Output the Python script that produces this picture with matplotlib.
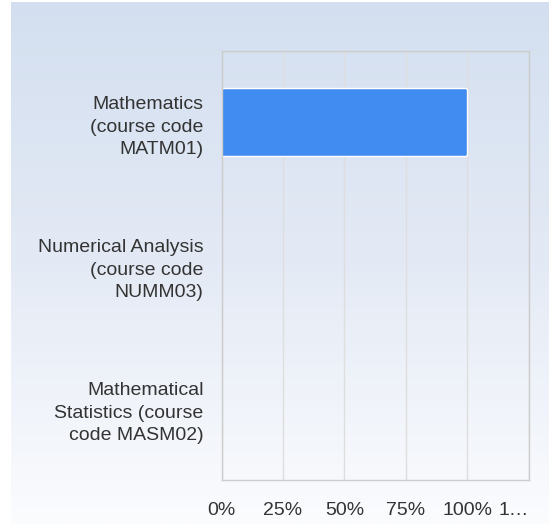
import matplotlib.pyplot as plt
import numpy as np
from matplotlib.patches import FancyBboxPatch
from matplotlib.colors import LinearSegmentedColormap

plt.rcParams['font.family'] = ['Liberation Sans', 'DejaVu Sans']

# data
courses = ["Mathematics\n(course code\nMATM01)",
           "Numerical Analysis\n(course code\nNUMM03)",
           "Mathematical\nStatistics (course\ncode MASM02)"]
share = [100, 0, 0]
xticks = [0, 25, 50, 75, 100, 125]
xticklabels = ["0%", "25%", "50%", "75%", "100%", "1…"]

W, H = 549, 524
fig = plt.figure(figsize=(W / 100, H / 100), dpi=100)

# background gradient
bg = fig.add_axes([11 / W, 0, 1 - 11 / W, 1 - 2 / H])
cmap = LinearSegmentedColormap.from_list("bg", ["#d3dff0", "#e4eaf5", "#fbfcfe"])
grad = np.linspace(0, 1, 256).reshape(-1, 1)
bg.imshow(grad, aspect="auto", cmap=cmap, extent=[0, 1, 0, 1], origin="upper")
bg.axis("off")

# plot area
left, right, top, bottom = 221.5, 529, 51, 480
ax = fig.add_axes([left / W, 1 - bottom / H, (right - left) / W, (bottom - top) / H])
ax.patch.set_alpha(0)
ax.set_xlim(0, 125)
ax.set_ylim(len(courses) - 0.5, -0.5)

ax.set_xticks(xticks)
ax.set_xticklabels(xticklabels)
ax.get_xticklabels()[-1].set_horizontalalignment("right")
ax.xaxis.grid(True, color="#dedede", linewidth=1)
ax.set_axisbelow(True)
for s in ax.spines.values():
    s.set_color("#cccccc")
    s.set_linewidth(1)
ax.tick_params(axis="both", length=0, labelsize=14, colors="#333333")
ax.tick_params(axis="x", pad=16)
ax.tick_params(axis="y", pad=13)
ax.set_yticks(range(len(courses)))
ax.set_yticklabels(courses, ha="right", linespacing=1.42)

bar_h = 0.475
for i, v in enumerate(share):
    if v <= 0:
        continue
    p = FancyBboxPatch((0, i - bar_h / 2), v, bar_h,
                       boxstyle="round,pad=0,rounding_size=0.6",
                       mutation_aspect=0.03,
                       facecolor="#418cf0", edgecolor="white", linewidth=1)
    ax.add_patch(p)

fig.savefig("out.png", dpi=100)
